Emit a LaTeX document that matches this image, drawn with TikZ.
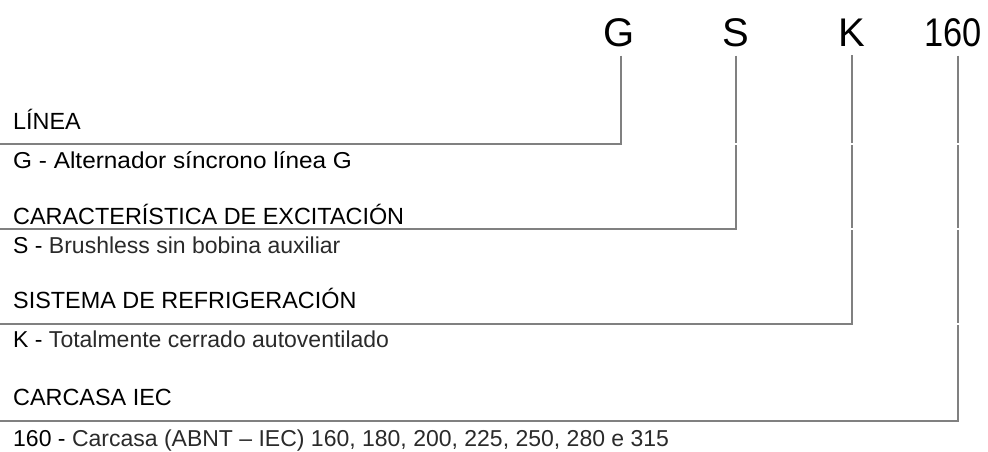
\documentclass[tikz,border=0pt]{standalone}
\usepackage{fontspec}
\setmainfont{Liberation Sans}
\usepackage{graphicx}
\definecolor{rulegray}{HTML}{808080}
\definecolor{lighttext}{HTML}{2A2A2A}
\begin{document}
\begin{tikzpicture}[x=1pt,y=-1pt,
  code/.style={font=\fontsize{40}{44}\selectfont, anchor=base, inner xsep=0pt, inner ysep=9pt},
  title/.style={font=\fontsize{23.4}{26}\selectfont, anchor=base west, inner sep=0pt},
  desc/.style={font=\fontsize{23}{26}\selectfont, anchor=base west, inner sep=0pt},
  lead/.style={draw=rulegray, line width=2pt},
  gapmark/.style={draw=white, line width=4pt}]
\useasboundingbox (0,0) rectangle (988,451);

% type designation letters
\node[code] (cG) at (619,46) {G};
\node[code] (cS) at (736,46) {S};
\node[code] (cK) at (852,46) {K};
\node[code] (c160) at (953,46) {\scalebox{0.86}[1]{160}};

% left ends of the leader lines
\coordinate (eG) at (0,144);
\coordinate (eS) at (0,229);
\coordinate (eK) at (0,324);
\coordinate (e160) at (0,421);

% foot points of the verticals under each letter
\coordinate (fG) at ([xshift=2pt]cG.south);
\coordinate (fS) at (cS.south);
\coordinate (fK) at (cK.south);
\coordinate (f160) at ([xshift=5pt]c160.south);

% headings and descriptions
\node[title] (tG) at (13,129) {LÍNEA};
\node[desc] (dG) at (13,168) {\scalebox{1.06}[1]{G - Alternador síncrono línea G}};
\node[title] (tS) at (13,224) {CARACTERÍSTICA DE EXCITACIÓN};
\node[desc] (dS) at (13,253) {S - \textcolor{lighttext}{Brushless sin bobina auxiliar}};
\node[title] (tK) at (13,308) {SISTEMA DE REFRIGERACIÓN};
\node[desc] (dK) at (13,347) {K - \textcolor{lighttext}{Totalmente cerrado autoventilado}};
\node[title] (t160) at (13,405) {CARCASA IEC};
\node[desc] (d160) at (13,446) {160 - \textcolor{lighttext}{Carcasa (ABNT – IEC) 160, 180, 200, 225, 250, 280 e 315}};

% leader lines
\draw[lead] (fG) |- (eG);
\draw[lead] (fS) |- (eS);
\draw[lead] (fK) |- (eK);
\draw[lead] (f160) |- (e160);

% small breaks where the verticals pass the levels of the lines above
\draw[gapmark] ([yshift=-1pt]fS |- eG) -- ([yshift=1pt]fS |- eG);
\draw[gapmark] ([yshift=-1pt]fK |- eG) -- ([yshift=1pt]fK |- eG);
\draw[gapmark] ([yshift=-1pt]fK |- eS) -- ([yshift=1pt]fK |- eS);
\draw[gapmark] ([yshift=-1pt]f160 |- eG) -- ([yshift=1pt]f160 |- eG);
\draw[gapmark] ([yshift=-1pt]f160 |- eS) -- ([yshift=1pt]f160 |- eS);
\draw[gapmark] ([yshift=-1pt]f160 |- eK) -- ([yshift=1pt]f160 |- eK);
\end{tikzpicture}
\end{document}
